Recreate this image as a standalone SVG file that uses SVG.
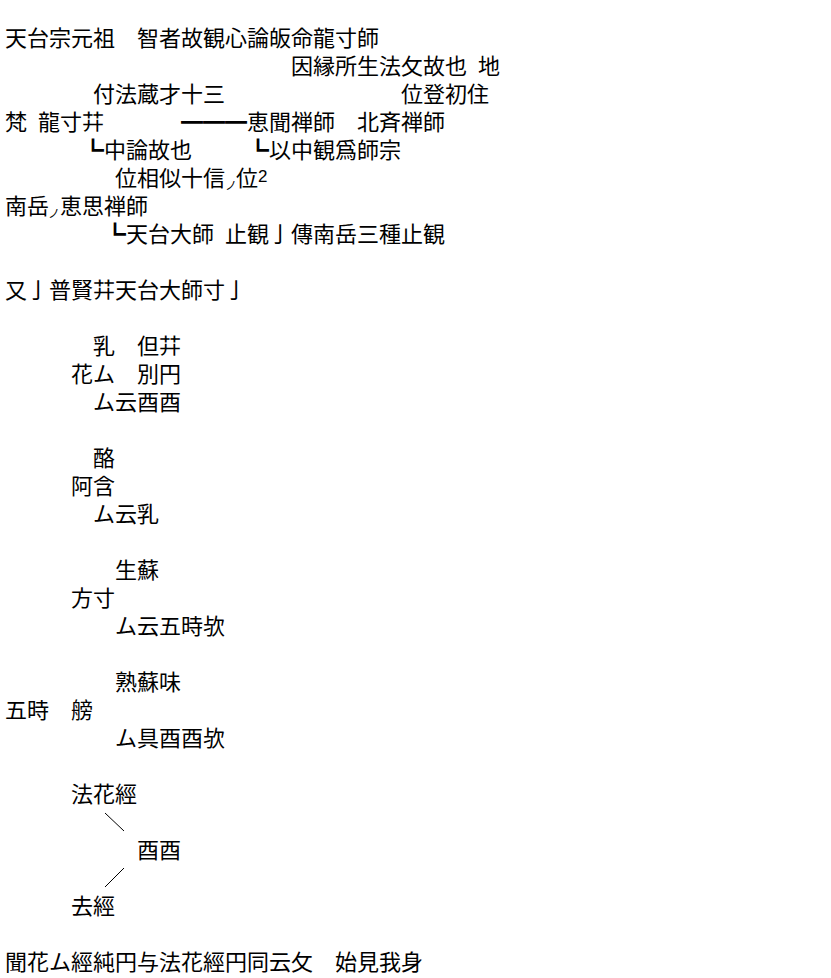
<svg xmlns="http://www.w3.org/2000/svg" width="831" height="978" viewBox="0 0 831 978">
<style>
text{font-family:"Noto Sans CJK JP","Noto Sans CJK SC",sans-serif;font-size:22px;fill:#000}
.box{font-family:"Noto Sans CJK JP","DejaVu Sans",sans-serif}
.small{font-size:12px}
.sup{font-family:"Liberation Sans",sans-serif;font-size:17px}
.conn{stroke:#000;stroke-width:1;fill:none}
</style>
<rect width="831" height="978" fill="#fff"/>
<g id="lineage">
<g id="n-soshi"><text x="5" y="46">天台宗元祖　智者故観心論皈命龍寸師</text></g>
<g id="n-innen"><text x="291" y="74">因縁所生法攵故也</text><text x="478" y="74">地</text></g>
<g id="n-fuho"><text x="93" y="102">付法蔵才十三</text></g>
<g id="n-ito"><text x="401" y="102">位登初住</text></g>
<g id="n-bon"><text x="5" y="130">梵</text><text x="38" y="130">龍寸𦬇</text></g>
<g id="n-emon"><text x="247" y="130">恵聞禅師</text><text x="357" y="130">北斉禅師</text></g>
<g id="n-chuuron"><text x="104" y="158">中論故也</text></g>
<g id="n-ichu"><text x="269" y="158">以中観爲師宗</text></g>
<g id="n-iso"><text x="115" y="186">位相似十信</text><text class="small" x="225" y="190">ノ</text><text x="236" y="186">位</text><text class="sup" x="258" y="182">2</text></g>
<g id="n-nangaku"><text x="5" y="214">南岳</text><text class="small" x="48" y="218">ノ</text><text x="60" y="214">恵思禅師</text></g>
<g id="n-tendai"><text x="126" y="242">天台大師</text><text x="225" y="242">止観亅傳南岳三種止観</text></g>
<g id="n-fugen"><text x="5" y="298">又亅普賢𦬇天台大師寸亅</text></g>
</g>
<g id="goji">
<g id="n-kegon"><text x="93" y="354">乳</text><text x="137" y="354">但𦬇</text><text x="71" y="382">花ム</text><text x="137" y="382">別円</text><text x="93" y="410">ム云酉酉</text></g>
<g id="n-agon"><text x="93" y="466">酪</text><text x="71" y="494">阿含</text><text x="93" y="522">ム云乳</text></g>
<g id="n-hodo"><text x="115" y="578">生蘇</text><text x="71" y="606">方寸</text><text x="115" y="634">ム云五時欤</text></g>
<g id="n-hannya"><text x="115" y="690">熟蘇味</text><text x="5" y="718">五時</text><text x="71" y="718">艕</text><text x="115" y="746">ム具酉酉欤</text></g>
<g id="n-hokke"><text x="71" y="802">法花經</text></g>
<g id="n-daigo"><text x="137" y="858">酉酉</text></g>
<g id="n-nehan"><text x="71" y="914">去經</text></g>
<g id="n-last"><text x="5" y="970">聞花ム經純円与法花經円同云攵　始見我身</text></g>
</g>
<g id="connectors">
<text class="box" x="181" y="130">━━━</text>
<text class="box" x="82" y="158">┗</text>
<text class="box" x="247" y="158">┗</text>
<text class="box" x="104" y="242">┗</text>
<line class="conn" x1="105" y1="813" x2="124" y2="831"/>
<line class="conn" x1="124" y1="868" x2="105" y2="887"/>
</g>
</svg>
